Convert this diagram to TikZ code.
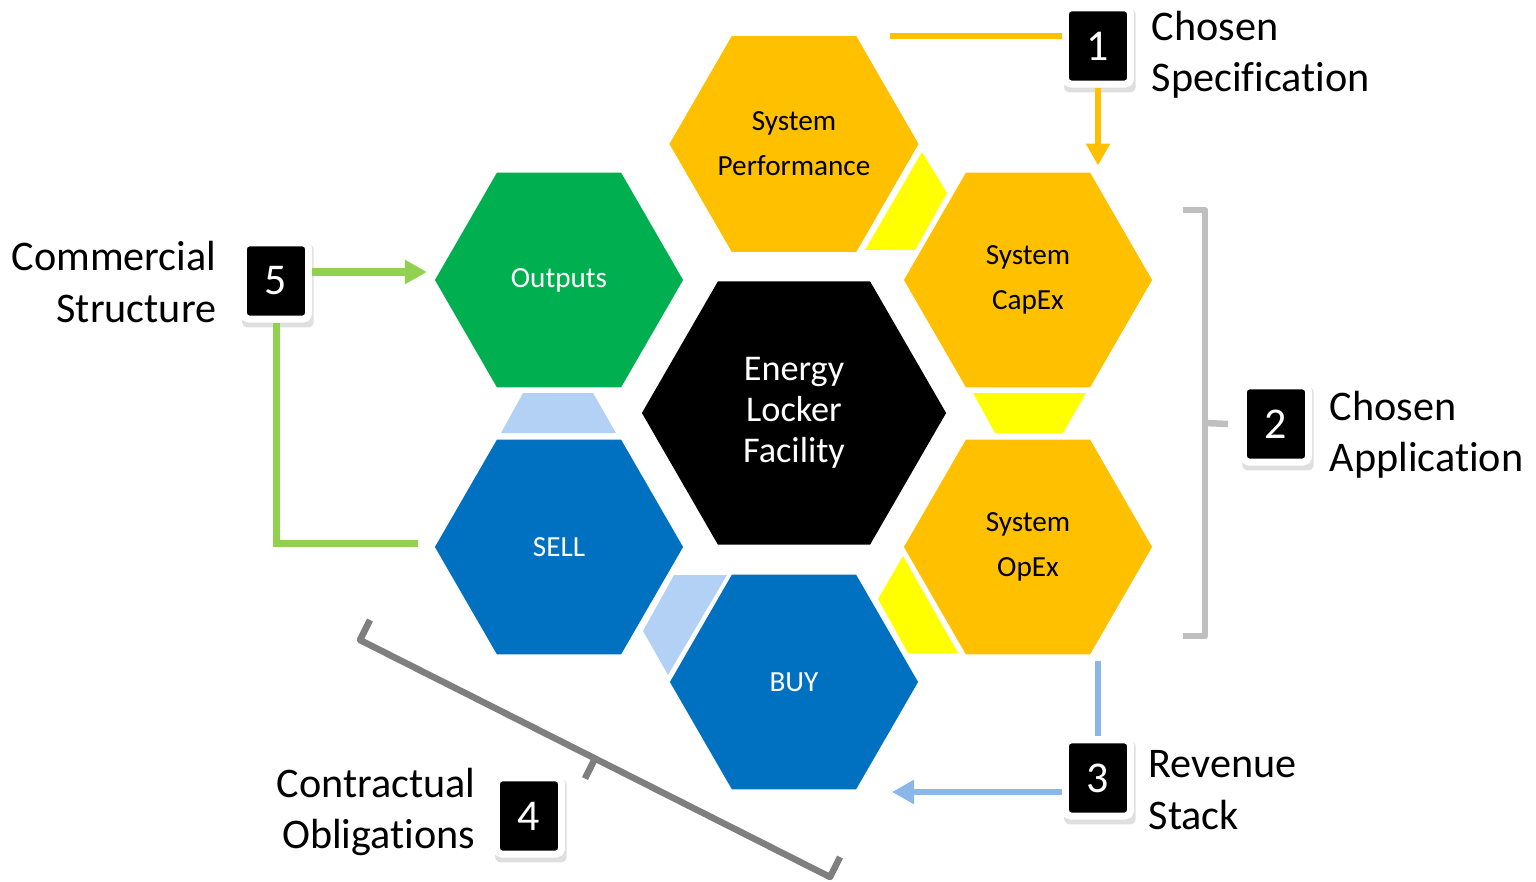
\documentclass[tikz,border=0pt]{standalone}
\usepackage{fontspec}
\setmainfont{Carlito}[Ligatures=NoCommon]
\usetikzlibrary{arrows.meta,positioning,calc,shapes.geometric,shadows}

\definecolor{hexorange}{HTML}{FFC000}
\definecolor{hexgreen}{HTML}{00B050}
\definecolor{hexblue}{HTML}{0070C0}
\definecolor{gapyellow}{HTML}{FFFF00}
\definecolor{gapblue}{HTML}{B3D1F5}
\definecolor{lineblue}{HTML}{8AB6E8}
\definecolor{linegreen}{HTML}{92D050}
\definecolor{bracketlight}{HTML}{BFBFBF}
\definecolor{bracketdark}{HTML}{7F7F7F}

\begin{document}
\begin{tikzpicture}[x=0.01cm,y=-0.01cm,
  hex/.style={regular polygon,regular polygon sides=6,minimum size=2.48cm,inner sep=0pt,outer sep=0pt,align=center,font=\fontsize{8.3}{12.8}\selectfont},
  numbox/.style={fill=black,draw=white,line width=0.07cm,rounded corners=1.5pt,minimum width=0.65cm,minimum height=0.76cm,inner sep=0pt,text=white,font=\fontsize{12.5}{15}\selectfont,drop shadow={opacity=0.25,shadow scale=1.1,shadow xshift=0.5pt,shadow yshift=-1.2pt}},
  lbl/.style={inner sep=0pt,font=\fontsize{12}{14.6}\selectfont},
  link/.style={line width=0.06cm},
  tip/.style={-{Triangle[length=0.22cm,width=0.23cm]}},
  bracket/.style={line width=0.065cm,line join=round}]

\useasboundingbox (0,0) rectangle (1536,882);

% hexagons
\node[hex,fill=hexorange] (perf) at (794,144) {System\\Performance};
\node[hex,fill=hexorange] (capex) at (1028,280) {System\\CapEx};
\node[hex,fill=hexorange] (opex) at (1028,547) {System\\OpEx};
\node[hex,fill=hexblue,text=white] (buy) at (794,682) {BUY};
\node[hex,fill=hexblue,text=white] (sell) at (559,547) {SELL};
\node[hex,fill=hexgreen,text=white] (outputs) at (559,280) {Outputs};
\node[hex,fill=black,text=white,minimum size=3.04cm,font=\fontsize{10.3}{11.7}\selectfont] (core) at (794,413) {Energy\\Locker\\Facility};

% gaps between hexagons
\fill[gapyellow] (865,250) -- (922,152) -- (947,193) -- (915,250) -- cycle;
\fill[gapblue] (523,393) -- (593,393) -- (616,433) -- (501,433) -- cycle;
\fill[gapyellow] (973,393) -- (1086,393) -- (1063,433) -- (995,433) -- cycle;
\fill[gapblue] (674,575) -- (727,575) -- (668,675) -- (643,631) -- cycle;
\fill[gapyellow] (903,556) -- (958,653) -- (908,653) -- (878,599) -- cycle;

% number boxes
\node[numbox] (b1) at (1098,46) {1};
\node[numbox] (b2) at (1276,424) {2};
\node[numbox] (b3) at (1098,778) {3};
\node[numbox] (b4) at (529,816) {4};
\node[numbox] (b5) at (276,281) {5};

% labels
\node[lbl,anchor=west,align=left] (spec) at (1151,55) {Chosen\\Specification};
\node[lbl,anchor=west,align=left] (app) at (1329,435) {Chosen\\Application};
\node[lbl,anchor=west,align=left] (rev) at (1148,790) {Revenue\\Stack};
\node[lbl,anchor=east,align=right] (comm) at (217,282) {Commercial\\Structure};
\node[lbl,anchor=east,align=right] (contr) at (476,812) {Contractual\\Obligations};

% 1: specification
\coordinate (specin) at (890,36);
\draw[link,hexorange] (specin) -- (specin -| b1.west);
\draw[link,hexorange,tip] (b1.south) -- ($(b1.south |- capex.north)+(0,-7)$);

% 2: application bracket
\draw[bracket,bracketlight] (1183,210) -| (1205,636) -- (1183,636);
\draw[bracket,bracketlight] (1205,423) -- ($(b2.west)+(-12,0)$);

% 3: revenue
\coordinate (buyin) at (892,792);
\draw[link,lineblue] ($(b3.north |- opex.south)+(0,7)$) -- (b3.north);
\draw[link,lineblue,tip] ($(b3.west)+(0,14)$) -- (buyin);

% 4: obligations bracket
\coordinate (ob1) at (360,640);
\coordinate (ob2) at (830,877);
\draw[bracket,bracketdark] ($(ob1)+(10,-20)$) -- (ob1) -- (ob2) -- ($(ob2)+(10,-20)$);
\draw[bracket,bracketdark] ($(ob1)!0.5!(ob2)$) -- ++(-10,20);

% 5: commercial
\draw[link,linegreen,line width=0.07cm,tip] ($(b5.east)+(0,-9)$) coordinate (g1) -- ($(g1 -| outputs.west)+(-8,0)$);
\draw[link,linegreen,line width=0.07cm] (b5.south) |- ($(sell.west)+(-17,-4)$);

\end{tikzpicture}
\end{document}
